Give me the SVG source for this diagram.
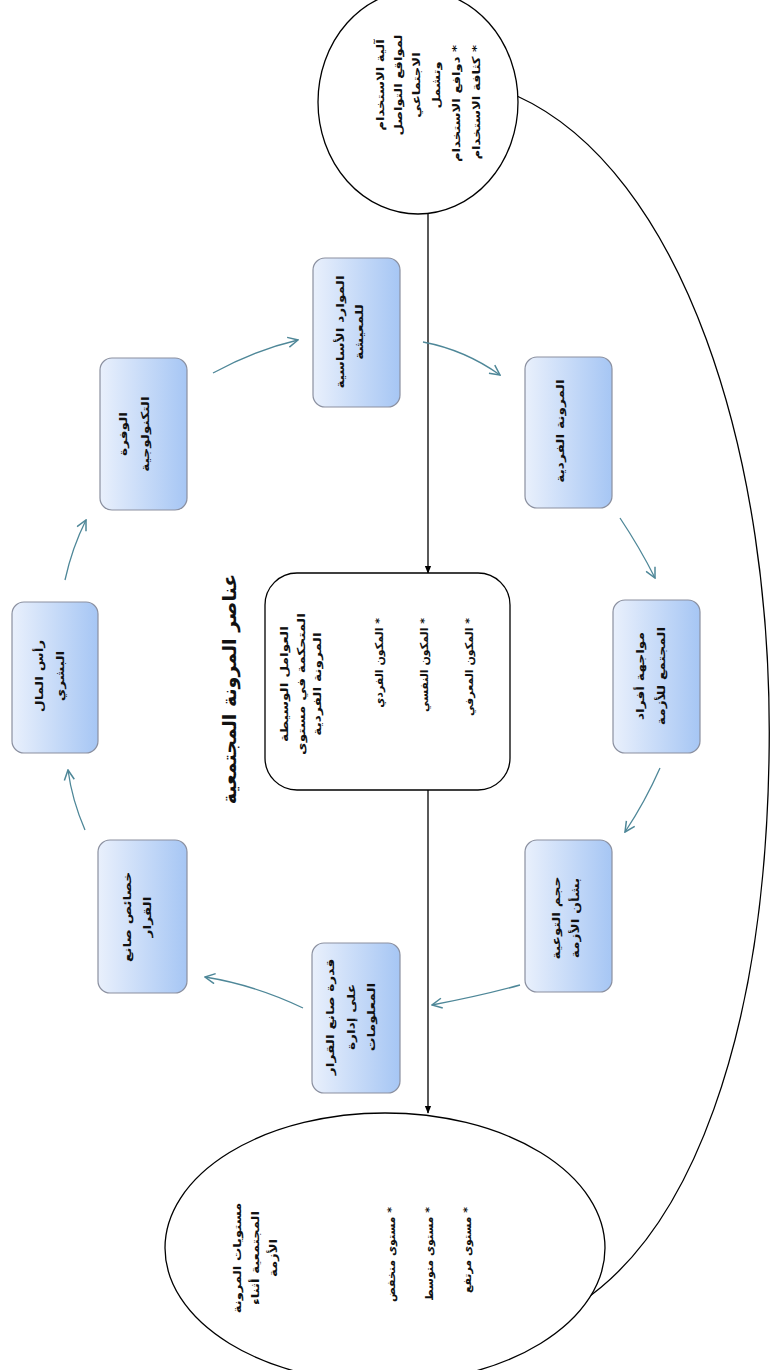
<svg xmlns="http://www.w3.org/2000/svg" width="770" height="1370" viewBox="0 0 770 1370">
<defs>
<linearGradient id="bg" x1="0" y1="0" x2="1" y2="0">
<stop offset="0" stop-color="#e9f0fc"/>
<stop offset="1" stop-color="#a6c6f4"/>
</linearGradient>
<marker id="ah" viewBox="0 0 10 10" refX="9" refY="5" markerWidth="8" markerHeight="8" orient="auto" markerUnits="userSpaceOnUse">
<path d="M0,1 L10,5 L0,9 Z" fill="#000"/>
</marker>
<marker id="ta" viewBox="0 0 12 12" refX="11" refY="6" markerWidth="12" markerHeight="12" orient="auto" markerUnits="userSpaceOnUse">
<path d="M1,1 L11,6 L1,11" fill="none" stroke="#4e8798" stroke-width="1.5"/>
</marker>
</defs>
<style>
.box{fill:url(#bg);stroke:#8b90a0;stroke-width:1.2}
.el{fill:#fff;stroke:#000;stroke-width:1.3}
.t{font-family:"DejaVu Sans",sans-serif;font-weight:bold;font-size:11px;fill:#111;text-anchor:middle}
.s{text-anchor:start}
.ttl{font-size:19px}
.c{fill:none;stroke:#000;stroke-width:1.3}
.tc{fill:none;stroke:#4e8798;stroke-width:1.3}
</style>
<rect width="770" height="1370" fill="#fff"/>

<g id="connectors">
<path class="c" d="M517,96 C680,170 775,450 769,760 C764,1040 690,1230 580,1303"/>
<path class="c" d="M428,213 L428,573" marker-end="url(#ah)"/>
<path class="c" d="M428,790 L428,1113" marker-end="url(#ah)"/>
<path class="tc" d="M423,342 Q465,350 500,375" marker-end="url(#ta)"/>
<path class="tc" d="M620,518 Q640,548 655,578" marker-end="url(#ta)"/>
<path class="tc" d="M660,768 Q645,802 625,832" marker-end="url(#ta)"/>
<path class="tc" d="M520,985 Q480,996 432,1005" marker-end="url(#ta)"/>
<path class="tc" d="M303,1008 Q255,985 205,977" marker-end="url(#ta)"/>
<path class="tc" d="M85,830 Q72,800 68,770" marker-end="url(#ta)"/>
<path class="tc" d="M65,580 Q72,548 86,520" marker-end="url(#ta)"/>
<path class="tc" d="M213,373 Q255,350 298,340" marker-end="url(#ta)"/>
</g>

<g id="n-usage">
<ellipse class="el" cx="418" cy="102" rx="100" ry="112"/>
<text class="t" transform="translate(384,85) rotate(-90) scale(1.2,1)">آلية الاستخدام</text>
<text class="t" transform="translate(402,85) rotate(-90) scale(1.2,1)">لمواقع التواصل</text>
<text class="t" transform="translate(420,85) rotate(-90) scale(1.2,1)">الاجتماعي</text>
<text class="t" transform="translate(440,85) rotate(-90) scale(1.2,1)">وتشمل</text>
<text class="t s" direction="rtl" transform="translate(460,45) rotate(-90) scale(1.2,1)">* دوافع الاستخدام</text>
<text class="t s" direction="rtl" transform="translate(480,45) rotate(-90) scale(1.2,1)">* كثافة الاستخدام</text>
</g>

<g id="n-center">
<rect x="265" y="573" width="245" height="217" rx="32" fill="#fff" stroke="#000" stroke-width="1.3"/>
<text class="t" transform="translate(288,684) rotate(-90) scale(1.25,1)">العوامل الوسيطة</text>
<text class="t" transform="translate(305,684) rotate(-90) scale(1.25,1)">المتحكمة في مستوى</text>
<text class="t" transform="translate(321,684) rotate(-90) scale(1.25,1)">المرونة الفردية</text>
<text class="t s" direction="rtl" transform="translate(383,618) rotate(-90)">* المكون الفردي</text>
<text class="t s" direction="rtl" transform="translate(428,618) rotate(-90)">* المكون النفسي</text>
<text class="t s" direction="rtl" transform="translate(473,618) rotate(-90)">* المكون المعرفي</text>
</g>

<g id="n-levels">
<ellipse class="el" cx="385" cy="1248" rx="220" ry="135"/>
<text class="t" transform="translate(241,1258) rotate(-90) scale(1.2,1)">مستويات المرونة</text>
<text class="t" transform="translate(259,1258) rotate(-90) scale(1.2,1)">المجتمعية أثناء</text>
<text class="t" transform="translate(277,1258) rotate(-90) scale(1.2,1)">الأزمة</text>
<text class="t s" direction="rtl" transform="translate(395,1207) rotate(-90)">* مستوى منخفض</text>
<text class="t s" direction="rtl" transform="translate(433,1207) rotate(-90)">* مستوى متوسط</text>
<text class="t s" direction="rtl" transform="translate(471,1207) rotate(-90)">* مستوى مرتفع</text>
</g>

<g id="title">
<text class="t ttl" transform="translate(236,689) rotate(-90)">عناصر المرونة المجتمعية</text>
</g>

<g id="b1">
<rect class="box" x="313" y="258" width="87" height="149" rx="12"/>
<text class="t" transform="translate(344,332) rotate(-90) scale(1.25,1)">الموارد الأساسية</text>
<text class="t" transform="translate(363,332) rotate(-90) scale(1.25,1)">للمعيشة</text>
</g>
<g id="b2">
<rect class="box" x="525" y="357" width="87" height="151" rx="12"/>
<text class="t" transform="translate(564,431) rotate(-90) scale(1.25,1)">المرونة الفردية</text>
</g>
<g id="b3">
<rect class="box" x="613" y="600" width="87" height="153" rx="12"/>
<text class="t" transform="translate(644,676) rotate(-90) scale(1.25,1)">مواجهة أفراد</text>
<text class="t" transform="translate(665,676) rotate(-90) scale(1.25,1)">المجتمع للأزمة</text>
</g>
<g id="b4">
<rect class="box" x="525" y="840" width="87" height="152" rx="12"/>
<text class="t" transform="translate(560,918) rotate(-90) scale(1.25,1)">حجم التوعية</text>
<text class="t" transform="translate(579,918) rotate(-90) scale(1.25,1)">بشأن الأزمة</text>
</g>
<g id="b5">
<rect class="box" x="312" y="943" width="88" height="150" rx="12"/>
<text class="t" transform="translate(334,1017) rotate(-90) scale(1.25,1)">قدرة صانع القرار</text>
<text class="t" transform="translate(355,1017) rotate(-90) scale(1.25,1)">على إدارة</text>
<text class="t" transform="translate(375,1017) rotate(-90) scale(1.25,1)">المعلومات</text>
</g>
<g id="b6">
<rect class="box" x="98" y="840" width="89" height="153" rx="12"/>
<text class="t" transform="translate(131,917) rotate(-90) scale(1.25,1)">خصائص صانع</text>
<text class="t" transform="translate(151,917) rotate(-90) scale(1.25,1)">القرار</text>
</g>
<g id="b7">
<rect class="box" x="12" y="602" width="86" height="151" rx="12"/>
<text class="t" transform="translate(43,676) rotate(-90) scale(1.25,1)">رأس المال</text>
<text class="t" transform="translate(64,676) rotate(-90) scale(1.25,1)">البشري</text>
</g>
<g id="b8">
<rect class="box" x="100" y="358" width="87" height="152" rx="12"/>
<text class="t" transform="translate(127,434) rotate(-90) scale(1.25,1)">الوفرة</text>
<text class="t" transform="translate(149,434) rotate(-90) scale(1.25,1)">التكنولوجية</text>
</g>
</svg>
